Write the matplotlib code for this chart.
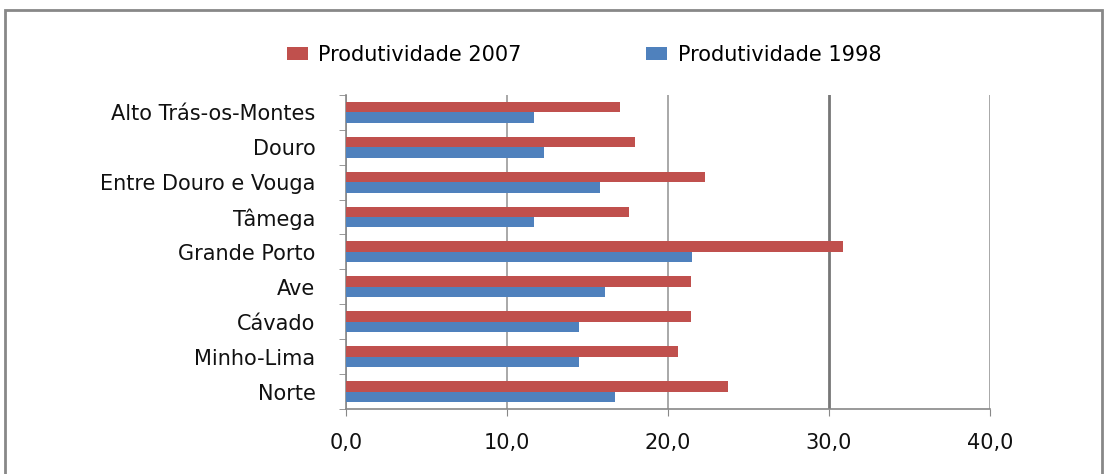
import matplotlib.pyplot as plt
import numpy as np
from matplotlib.patches import Rectangle
from matplotlib.ticker import FixedLocator, FuncFormatter

# data (bottom to top)
regions = ["Norte", "Minho-Lima", "Cávado", "Ave", "Grande Porto", "Tâmega",
           "Entre Douro e Vouga", "Douro", "Alto Trás-os-Montes"]
prod_2007 = [23.7, 20.6, 21.4, 21.4, 30.9, 17.6, 22.3, 17.95, 17.0]
prod_1998 = [16.7, 14.5, 14.5, 16.1, 21.5, 11.7, 15.8, 12.3, 11.7]
x_ticks = [0, 10, 20, 30, 40]

red = "#C0504D"
blue = "#4F81BD"
plt.rcParams['font.family'] = ['DejaVu Sans']

fig = plt.figure(figsize=(11.07, 4.74), dpi=100)
ax = fig.add_axes([0.3126, 0.137, 0.5817, 0.663])

y = np.arange(len(regions))
h = 0.3
ax.barh(y + h / 2, prod_2007, h, color=red, label="Produtividade 2007", zorder=3)
ax.barh(y - h / 2, prod_1998, h, color=blue, label="Produtividade 1998", zorder=3)

ax.set_xlim(0, 40)
ax.set_ylim(-0.5, len(regions) - 0.5)
ax.set_xticks(x_ticks)
ax.xaxis.set_major_formatter(FuncFormatter(lambda v, p: f"{v:.1f}".replace(".", ",")))
ax.set_yticks(y)
ax.set_yticklabels(regions)
ax.yaxis.set_minor_locator(FixedLocator(np.arange(-0.5, len(regions), 1)))

ax.tick_params(axis='y', which='major', length=0, pad=22, labelsize=15, colors='#111111')
ax.tick_params(axis='y', which='minor', length=5, color='#888888', direction='out')
ax.tick_params(axis='x', length=5, pad=12, labelsize=15, color='#888888', labelcolor='#111111')

ax.grid(axis='x', color='#999999', linewidth=1.2, zorder=0)
ax.get_xgridlines()[3].set_color('#777777')
ax.get_xgridlines()[3].set_linewidth(2)
for s in ['top', 'right']:
    ax.spines[s].set_visible(False)
for s in ['left', 'bottom']:
    ax.spines[s].set_color('#888888')
    ax.spines[s].set_linewidth(1.2)

fig.legend(loc='center', bbox_to_anchor=(584 / 1107, 1 - 55 / 474), ncol=2, frameon=False,
           fontsize=15, handlelength=1.0, handleheight=0.55, handletextpad=0.5,
           columnspacing=6)

fig.patches.append(Rectangle((5 / 1107, -0.02), 1097 / 1107, 1 - 10 / 474 + 0.02,
                             transform=fig.transFigure, fill=False,
                             edgecolor='#888888', linewidth=2))

fig.savefig("out.png", dpi=100)
